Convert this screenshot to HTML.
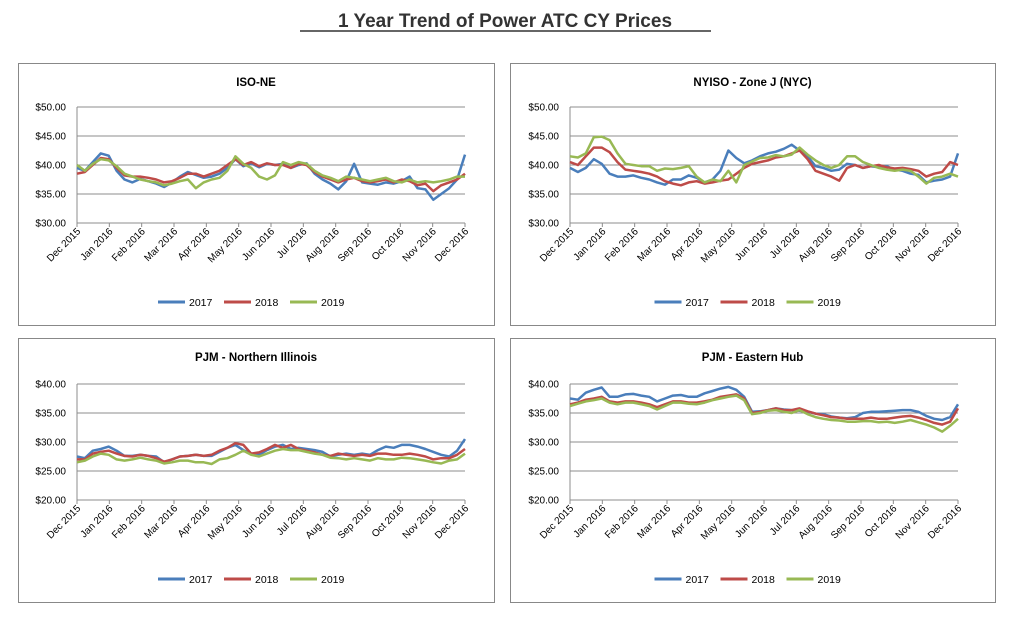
<!DOCTYPE html>
<html><head><meta charset="utf-8"><style>
html,body{margin:0;padding:0;background:#fff;}
svg{display:block;font-family:"Liberation Sans",Arial,sans-serif;}
</style></head><body>
<svg id="chart" width="1011" height="617" viewBox="0 0 1011 617" xmlns="http://www.w3.org/2000/svg">
<text x="505" y="27" text-anchor="middle" font-size="19" font-weight="bold" fill="#333">1 Year Trend of Power ATC CY Prices</text>
<line x1="300" y1="31" x2="711" y2="31" stroke="#333" stroke-width="1.5"/>
</svg>
<script>
const months = ["Dec 2015","Jan 2016","Feb 2016","Mar 2016","Apr 2016","May 2016","Jun 2016","Jul 2016","Aug 2016","Sep 2016","Oct 2016","Nov 2016","Dec 2016"];
const seriesNames = ["2017","2018","2019"];
const isoTicks = [50,45,40,35,30];
const pjmTicks = [40,35,30,25,20];

const isoBlue = [39.5,39.0,40.5,42.0,41.6,39.0,37.5,37.0,37.6,37.2,36.8,36.2,37.0,38.0,38.8,38.3,37.8,38.0,38.5,39.5,41.0,39.8,40.3,39.6,40.2,40.0,40.2,39.5,40.0,40.3,38.5,37.5,36.8,35.8,37.2,40.2,37.0,36.8,36.6,37.0,36.8,37.2,38.0,36.0,35.8,34.0,35.0,36.0,37.5,41.8];
const isoRed = [38.5,38.8,40.0,41.2,41.0,39.5,38.2,38.0,38.0,37.8,37.5,37.0,37.2,37.8,38.5,38.5,38.0,38.5,39.0,40.0,41.0,40.0,40.5,39.8,40.3,40.0,40.0,39.5,40.2,40.0,38.8,38.0,37.5,37.0,37.5,37.8,37.2,37.0,37.2,37.5,37.0,37.5,37.2,36.5,36.8,35.5,36.5,37.0,37.5,38.5];
const isoGreen = [40.0,39.0,40.2,41.0,40.8,39.8,38.5,38.0,37.5,37.2,37.0,36.5,36.8,37.2,37.5,36.0,37.0,37.5,37.8,39.0,41.5,40.2,39.5,38.0,37.5,38.2,40.5,40.0,40.5,40.2,39.0,38.2,37.8,37.2,38.0,37.8,37.5,37.2,37.5,37.8,37.2,37.0,37.5,37.0,37.2,37.0,37.2,37.5,38.0,38.0];

const nyBlue = [39.5,38.8,39.5,41.0,40.2,38.5,38.0,38.0,38.2,37.8,37.5,37.0,36.6,37.5,37.5,38.2,37.8,37.0,37.5,39.0,42.5,41.2,40.3,40.8,41.5,42.0,42.3,42.8,43.5,42.5,41.5,39.8,39.5,39.0,39.2,40.2,40.0,39.5,39.8,39.6,39.8,39.2,39.0,38.5,38.3,37.0,37.3,37.5,38.0,42.0];
const nyRed = [40.5,40.0,41.5,43.0,43.0,42.2,40.5,39.2,39.0,38.8,38.5,38.0,37.2,36.8,36.5,37.0,37.2,36.8,37.0,37.3,37.5,38.5,39.5,40.2,40.5,40.8,41.3,41.5,42.0,42.5,41.0,39.0,38.5,38.0,37.3,39.5,40.0,39.5,39.8,40.0,39.6,39.4,39.5,39.3,39.0,38.0,38.5,38.8,40.5,40.0];
const nyGreen = [41.5,41.3,42.0,44.8,44.9,44.3,42.0,40.2,40.0,39.8,39.8,39.0,39.4,39.3,39.5,39.8,38.0,37.0,37.5,37.2,39.0,37.0,40.0,40.6,41.2,41.3,41.7,41.5,41.8,43.0,41.8,40.8,40.0,39.5,40.0,41.5,41.5,40.5,40.0,39.5,39.2,39.0,39.2,39.0,38.0,36.8,37.8,38.0,38.5,38.0];

const niBlue = [27.5,27.2,28.5,28.8,29.2,28.5,27.6,27.6,27.8,27.6,27.5,26.5,27.0,27.5,27.6,27.8,27.6,27.6,28.3,29.0,29.5,28.6,28.0,27.8,28.6,29.2,29.5,28.8,29.0,28.8,28.6,28.3,27.5,27.8,28.0,27.8,28.0,27.8,28.6,29.2,29.0,29.5,29.5,29.2,28.8,28.3,27.8,27.5,28.5,30.5];
const niRed = [27.0,27.0,28.0,28.3,28.5,28.0,27.6,27.5,27.8,27.6,27.2,26.6,27.0,27.5,27.6,27.8,27.6,27.8,28.5,29.0,29.8,29.5,28.0,28.2,28.8,29.5,29.0,29.5,28.8,28.5,28.2,27.8,27.6,28.0,27.8,27.6,27.8,27.6,28.0,28.0,27.8,27.8,28.0,27.8,27.5,27.0,27.2,27.2,27.8,28.8];
const niGreen = [26.5,26.8,27.5,28.0,27.8,27.0,26.8,27.0,27.3,27.0,26.8,26.3,26.5,26.8,26.8,26.5,26.5,26.2,27.0,27.2,27.8,28.5,27.8,27.5,28.0,28.5,28.8,28.6,28.6,28.3,28.0,27.8,27.3,27.2,27.0,27.2,27.0,26.8,27.2,27.0,27.0,27.3,27.2,27.0,26.8,26.5,26.3,26.8,27.0,28.0];

const ehBlue = [37.5,37.3,38.5,39.0,39.4,37.8,37.8,38.2,38.3,38.0,37.8,37.0,37.5,38.0,38.1,37.8,37.8,38.4,38.8,39.2,39.5,39.0,37.8,35.2,35.3,35.5,35.8,35.6,35.5,35.4,35.2,34.9,34.8,34.4,34.2,34.1,34.3,35.0,35.2,35.2,35.3,35.4,35.5,35.5,35.2,34.5,34.0,33.8,34.3,36.5];
const ehRed = [36.5,36.8,37.3,37.5,37.8,37.0,36.8,37.0,37.0,36.8,36.5,36.0,36.5,37.0,37.0,36.8,36.8,37.0,37.3,37.8,38.0,38.2,37.5,35.0,35.2,35.5,35.8,35.5,35.5,35.8,35.3,34.9,34.6,34.3,34.2,34.0,34.0,34.0,34.2,34.0,34.0,34.2,34.4,34.5,34.2,33.8,33.3,33.0,33.5,35.8];
const ehGreen = [36.2,36.6,37.0,37.2,37.5,36.8,36.5,36.8,36.8,36.5,36.2,35.6,36.2,36.8,36.8,36.6,36.5,36.8,37.2,37.5,37.8,38.0,37.2,34.8,35.0,35.4,35.5,35.2,35.0,35.5,34.8,34.3,34.0,33.8,33.7,33.5,33.5,33.6,33.6,33.4,33.5,33.3,33.5,33.8,33.4,33.0,32.5,31.8,32.8,34.0];

const colors = ["#4a7ebb","#be4b48","#98b954"];
const NS = "http://www.w3.org/2000/svg";
const svg = document.getElementById('chart');
function mk(tag, attrs, parent){const e=document.createElementNS(NS,tag);for(const k in attrs)e.setAttribute(k,attrs[k]);(parent||svg).appendChild(e);return e;}

function panel(cfg){
  const g = mk('g',{});
  
  
  const frame = mk('rect',{x:cfg.bx+0.5,y:cfg.by+0.5,width:cfg.bw,height:cfg.bh,fill:'#fff',stroke:'#888','stroke-width':1},g);
  
  
  const t = mk('text',{x:cfg.bx+cfg.bw/2,y:cfg.by+23,'text-anchor':'middle','font-size':11.5,'font-weight':'bold',fill:'#000'},g);
  t.textContent = cfg.title;
  
  
  const x0=cfg.x0,x1=cfg.x1,yTop=cfg.yTop,yBot=cfg.yBot;
  const vMax=cfg.ticks[0], vMin=cfg.ticks[cfg.ticks.length-1];
  const yS = v => yTop + (vMax - v)/(vMax - vMin)*(yBot - yTop);
  const xS = (i,n) => x0 + i/(n-1)*(x1-x0);
  cfg.ticks.forEach(v=>{
    const y=yS(v);
    const gl = mk('line',{x1:x0,x2:x1,y1:y,y2:y,stroke:'#8c8c8c','stroke-width':1},g);
    
    
    const lb = mk('text',{x:x0-11,y:y+3.5,'text-anchor':'end','font-size':10,fill:'#000'},g);
    lb.textContent = '$'+v.toFixed(2);
    
    
  });
  const ax = mk('line',{x1:x0,x2:x0,y1:yTop,y2:yBot+4,stroke:'#8c8c8c','stroke-width':1},g);
  
  
  months.forEach((m,i)=>{
    const x = xS(i,months.length);
    const tk = mk('line',{x1:x,x2:x,y1:yBot,y2:yBot+4,stroke:'#8c8c8c','stroke-width':1},g);
    
    
    const lb = mk('text',{x:x+4,y:yBot+9,'text-anchor':'end','font-size':10,fill:'#000',transform:`rotate(-45 ${x+4} ${yBot+9})`},g);
    lb.textContent = m;
    
    
  });
  cfg.series.forEach((s,k)=>{
    const pts = s.map((v,i)=>xS(i,s.length).toFixed(1)+','+yS(v).toFixed(1)).join(' ');
    const pl = mk('polyline',{points:pts,fill:'none',stroke:colors[k],'stroke-width':2.5,'stroke-linejoin':'round'},g);
    
    
  });
  const cx = cfg.bx + cfg.bw/2;
  seriesNames.forEach((n,k)=>{
    const lx = cx - 98 + k*66;
    const ly = cfg.legendY;
    const sw = mk('line',{x1:lx,x2:lx+27,y1:ly,y2:ly,stroke:colors[k],'stroke-width':3},g);
    
    
    const lt = mk('text',{x:lx+31,y:ly+4,'font-size':10.5,fill:'#000'},g);
    lt.textContent = n;
    
    
  });
}

panel({name:'iso-ne-panel',title:'ISO-NE',bx:18,by:63,bw:476,bh:262,x0:77,x1:465,yTop:107,yBot:223,ticks:isoTicks,series:[isoBlue,isoRed,isoGreen],legendY:302});
panel({name:'nyiso-zone-j-panel',title:'NYISO - Zone J (NYC)',bx:510,by:63,bw:485,bh:262,x0:570,x1:958,yTop:107,yBot:223,ticks:isoTicks,series:[nyBlue,nyRed,nyGreen],legendY:302});
panel({name:'pjm-northern-illinois-panel',title:'PJM - Northern Illinois',bx:18,by:338,bw:476,bh:264,x0:77,x1:465,yTop:384,yBot:500,ticks:pjmTicks,series:[niBlue,niRed,niGreen],legendY:579});
panel({name:'pjm-eastern-hub-panel',title:'PJM - Eastern Hub',bx:510,by:338,bw:485,bh:264,x0:570,x1:958,yTop:384,yBot:500,ticks:pjmTicks,series:[ehBlue,ehRed,ehGreen],legendY:579});
</script>
</body></html>
